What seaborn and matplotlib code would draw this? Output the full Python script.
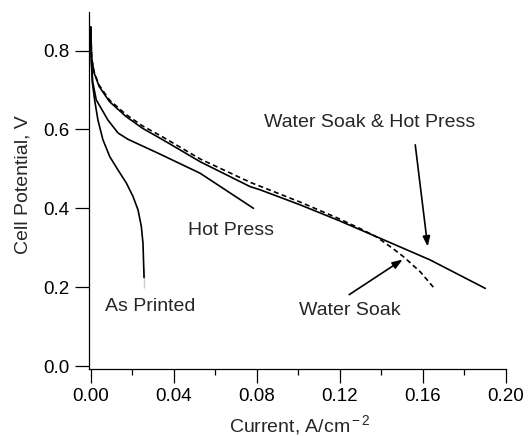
import numpy as np
import pandas as pd
import seaborn as sns
from matplotlib import pyplot as plt
from matplotlib.ticker import MultipleLocator

# polarization curves (current A/cm2, potential V)
printed_i = [0.0, 0.0003, 0.0008, 0.0019, 0.0035, 0.0059, 0.0092, 0.0132, 0.0172,
             0.0204, 0.0228, 0.0244, 0.0252, 0.0257, 0.0257]
printed_v = [0.86, 0.78, 0.72, 0.675, 0.624, 0.574, 0.531, 0.497, 0.464,
             0.430, 0.396, 0.354, 0.311, 0.252, 0.197]

hotpress_i = [0.0, 0.0004, 0.001, 0.0027, 0.0083, 0.0132, 0.018, 0.0324, 0.0527, 0.0784]
hotpress_v = [0.86, 0.77, 0.72, 0.675, 0.624, 0.591, 0.575, 0.540, 0.489, 0.400]

both_i = [0.0, 0.0005, 0.0017, 0.0041, 0.009, 0.017, 0.025, 0.0347, 0.0528, 0.0768,
          0.0816, 0.1008, 0.1186, 0.1394, 0.1635, 0.19]
both_v = [0.86, 0.78, 0.743, 0.709, 0.671, 0.633, 0.603, 0.574, 0.518, 0.455,
          0.447, 0.409, 0.371, 0.324, 0.269, 0.197]

soak_i = [0.0, 0.0005, 0.0017, 0.0041, 0.009, 0.017, 0.025, 0.0347, 0.0528, 0.0768,
          0.1008, 0.1186, 0.130, 0.1378, 0.145, 0.1507, 0.1587, 0.165]
soak_v = [0.86, 0.78, 0.745, 0.712, 0.675, 0.638, 0.609, 0.581, 0.525, 0.466,
          0.416, 0.376, 0.348, 0.327, 0.300, 0.277, 0.239, 0.200]

sns.set_style("ticks")
plt.rcParams['font.family'] = ['Liberation Sans', 'DejaVu Sans']
plt.rcParams['mathtext.fontset'] = 'custom'
plt.rcParams['mathtext.rm'] = 'Liberation Sans'
plt.rcParams['mathtext.it'] = 'Liberation Sans:italic'

fig = plt.figure(figsize=(5.28, 4.36), dpi=100)
ax = fig.add_axes([89 / 528, 1 - 369 / 436, 417 / 528, 357 / 436])

lw = 1.2
sns.lineplot(x=printed_i, y=printed_v, sort=False, color='black', lw=lw, ax=ax)
sns.lineplot(x=hotpress_i, y=hotpress_v, sort=False, color='black', lw=lw, ax=ax)
sns.lineplot(x=both_i, y=both_v, sort=False, color='black', lw=lw, ax=ax)
sns.lineplot(x=soak_i, y=soak_v, sort=False, color='black', lw=lw,
             linestyle=(0, (3, 2)), ax=ax)

ax.set_xlim(-0.0008, 0.2)
ax.set_ylim(-0.0076, 0.898)
ax.xaxis.set_major_locator(MultipleLocator(0.04))
ax.xaxis.set_minor_locator(MultipleLocator(0.02))
ax.yaxis.set_major_locator(MultipleLocator(0.2))
ax.xaxis.set_major_formatter(plt.FormatStrFormatter('%.2f'))
ax.yaxis.set_major_formatter(plt.FormatStrFormatter('%.1f'))

ax.tick_params(which='major', direction='out', length=10, width=0.9, pad=4,
               labelsize=13.5, color='black', labelcolor='black')
ax.tick_params(which='minor', direction='out', length=4.5, width=0.9, color='black')
for s in ['left', 'bottom']:
    ax.spines[s].set_linewidth(0.9)
    ax.spines[s].set_color('black')
sns.despine(ax=ax)

ax.set_xlabel('Current, A/cm$^{\\rm -2}$', fontsize=14)
ax.set_ylabel('Cell Potential, V', fontsize=14)
ax.xaxis.set_label_coords(0.506, -0.123)
ax.yaxis.set_label_coords(-0.139, 0.517)

# curve labels and arrows
fs = 14
ax.text(0.1341, 0.617, 'Water Soak & Hot Press', fontsize=fs, ha='center', va='center')
ax.text(0.0676, 0.343, 'Hot Press', fontsize=fs, ha='center', va='center')
ax.text(0.0286, 0.150, 'As Printed', fontsize=fs, ha='center', va='center')
ax.text(0.1249, 0.142, 'Water Soak', fontsize=fs, ha='center', va='center')

arrow = dict(arrowstyle='-|>,head_length=0.6,head_width=0.22', color='black',
             lw=1.2, shrinkA=0, shrinkB=0)
ax.annotate('', xy=(0.1623, 0.303), xytext=(0.1563, 0.561), arrowprops=arrow)
ax.annotate('', xy=(0.1502, 0.270), xytext=(0.1245, 0.181), arrowprops=arrow)

plt.savefig('out.png', dpi=100)
